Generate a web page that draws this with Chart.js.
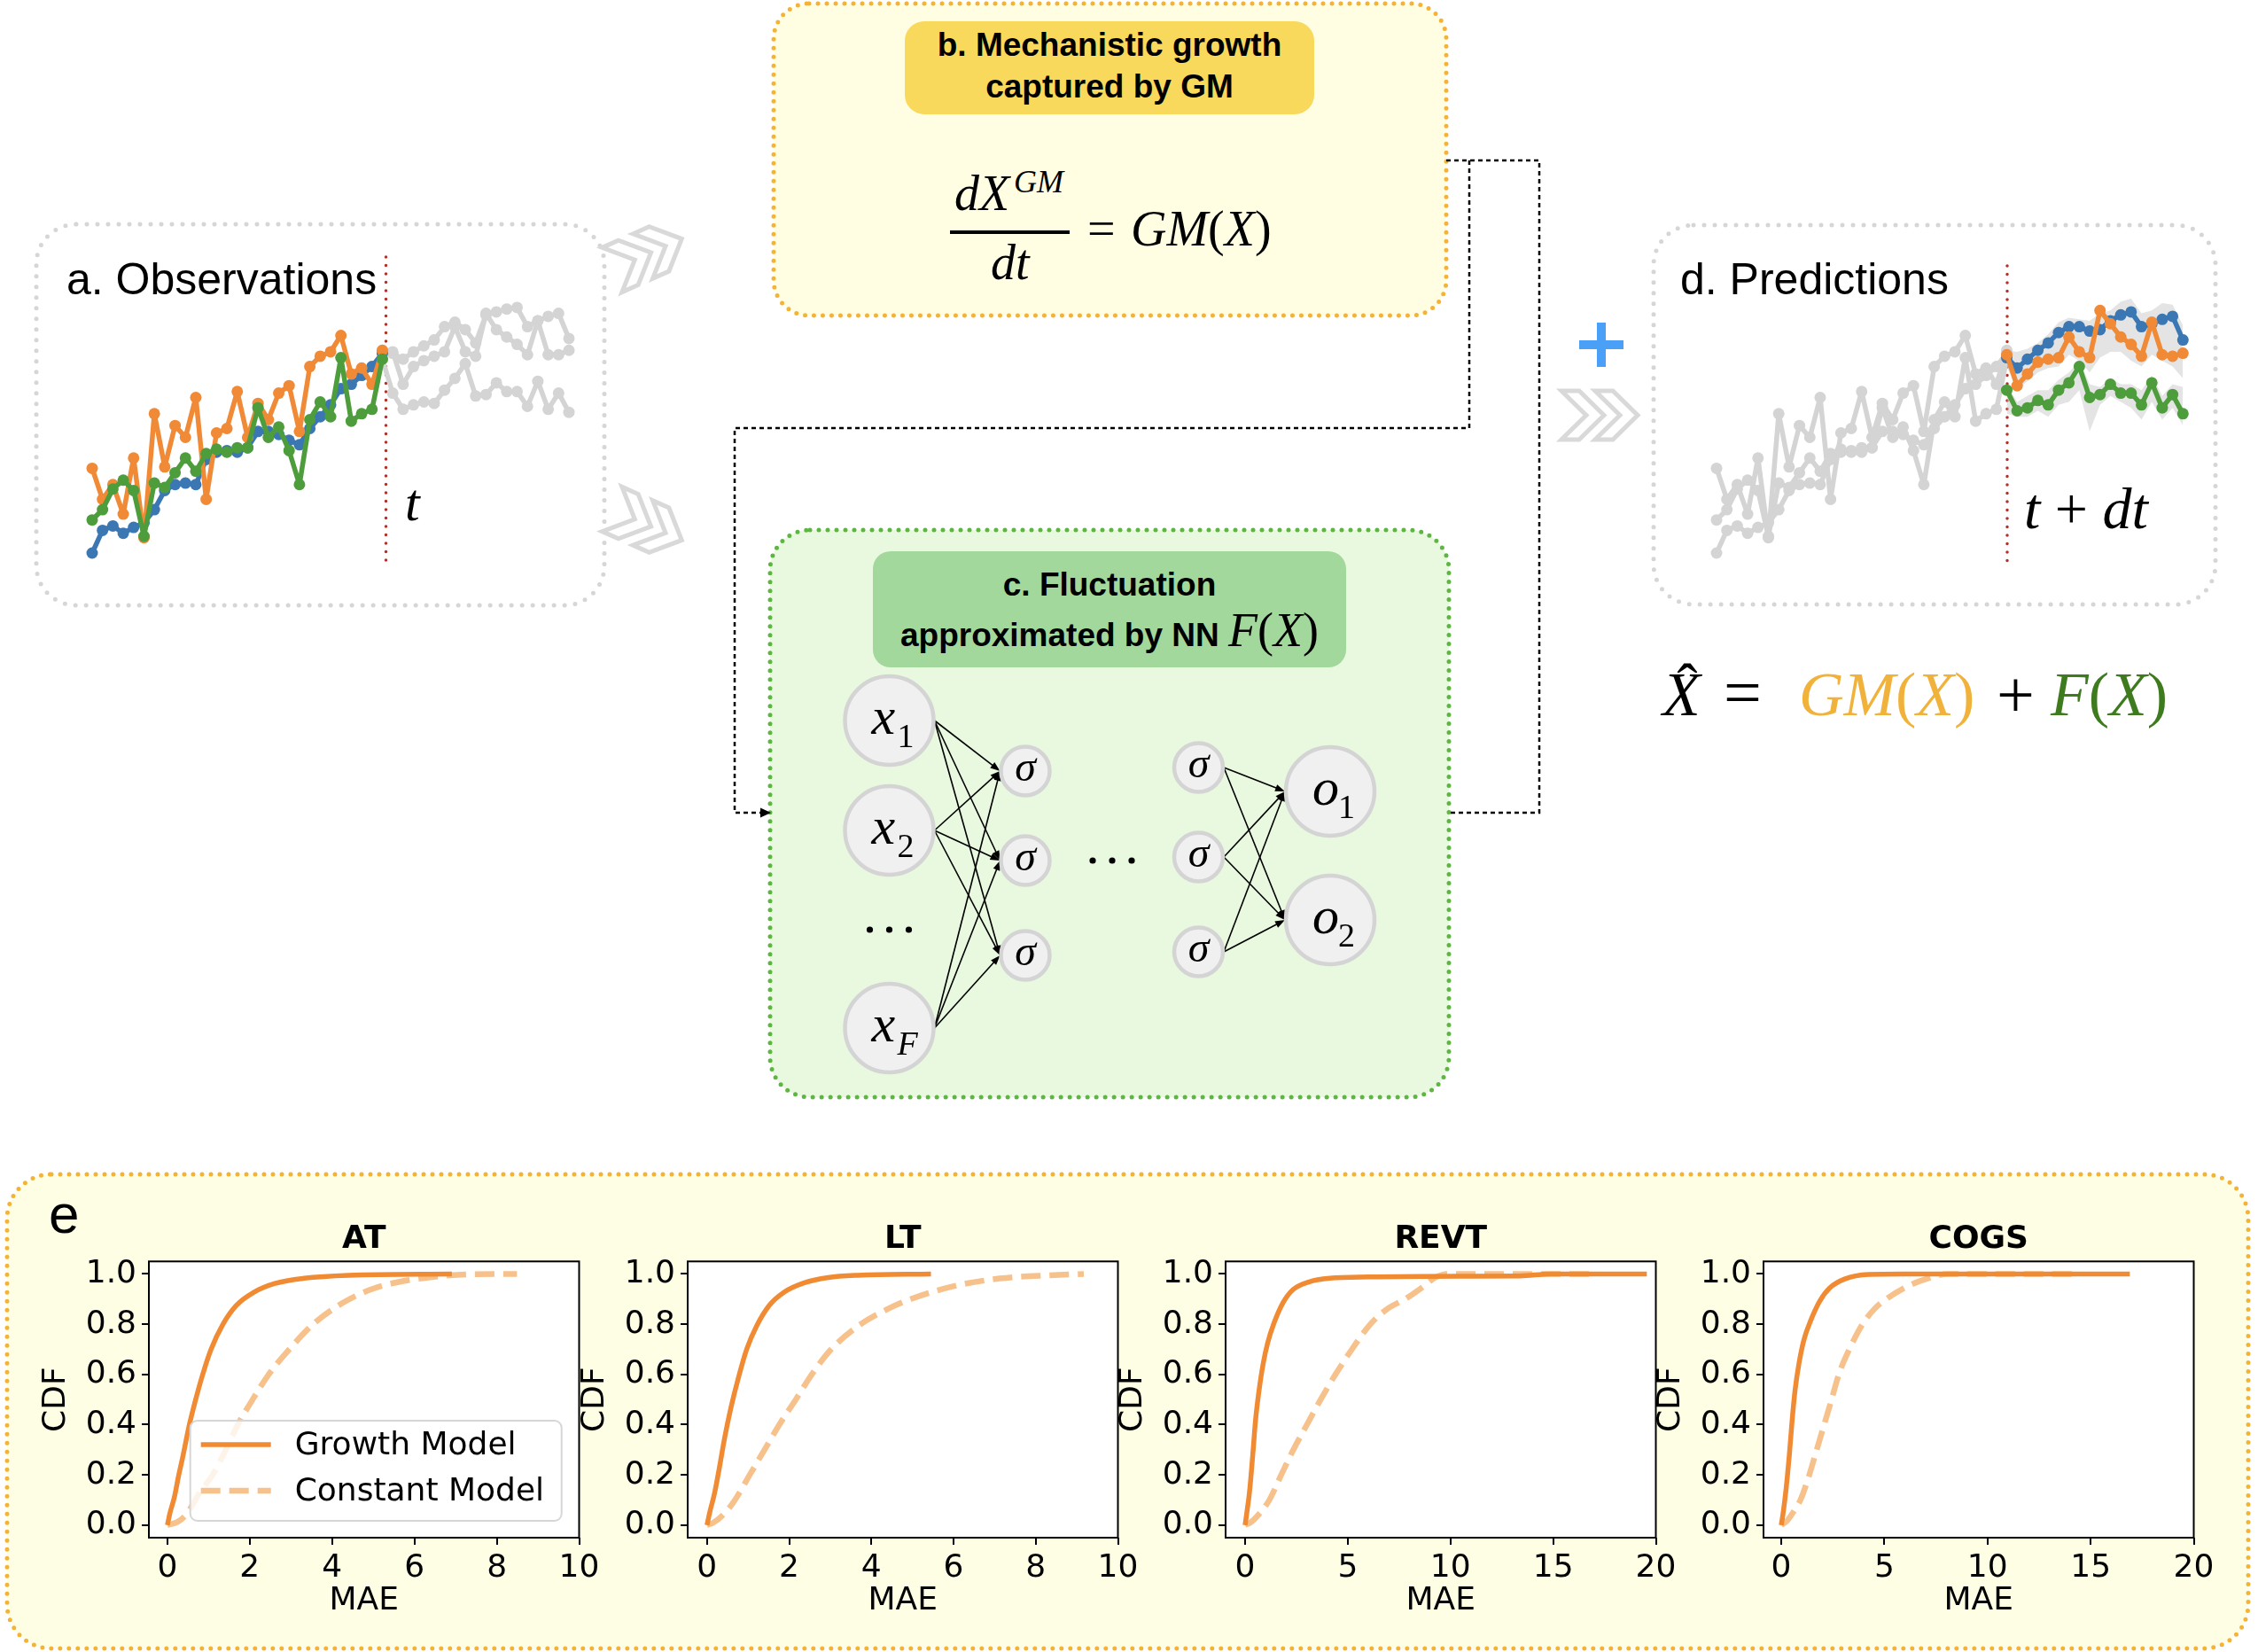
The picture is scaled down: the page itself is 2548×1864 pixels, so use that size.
<!DOCTYPE html>
<html>
<head>
<meta charset="utf-8">
<title>Growth model + NN fluctuation</title>
<script src="https://cdn.jsdelivr.net/npm/chart.js@4"></script>
<style>
  html, body { margin: 0; padding: 0; background: #fff; }
  #page { position: relative; width: 2548px; height: 1864px; overflow: hidden; }
  #page svg { position: absolute; left: 0; top: 0; }
  canvas { position: absolute; }
</style>
</head>
<body>
<div id="page">
<svg width="2548" height="1864" viewBox="0 0 2548 1864" xmlns="http://www.w3.org/2000/svg">
  <defs>
    <polygon id="chev" points="0,0 20,0 48,27.5 20,55 0,55 28,27.5" fill="#fff" stroke="#d9d9d9" stroke-width="5"/>
  </defs>
  <!-- boxes -->
  <rect x="8" y="1325" width="2529" height="535" rx="50" fill="#fefee4" stroke="#f5b335" stroke-width="5" stroke-dasharray="0 10" stroke-linecap="round"/>
  <rect x="41" y="253" width="641" height="430" rx="45" fill="#fff" stroke="#d6d6d6" stroke-width="5" stroke-dasharray="0 12" stroke-linecap="round"/>
  <rect x="1866" y="254" width="634" height="428" rx="45" fill="#fff" stroke="#d6d6d6" stroke-width="5" stroke-dasharray="0 12" stroke-linecap="round"/>
  <rect x="873" y="4" width="759" height="352" rx="40" fill="#fffee2" stroke="#f5b335" stroke-width="5" stroke-dasharray="0 10" stroke-linecap="round"/>
  <rect x="1021" y="24" width="462" height="105" rx="22" fill="#f8d95b"/>
  <rect x="869" y="598" width="766" height="640" rx="45" fill="#e8f9df" stroke="#5db640" stroke-width="5" stroke-dasharray="0 10" stroke-linecap="round"/>
  <rect x="985" y="622" width="534" height="131" rx="20" fill="#a2d89b"/>

  <!-- connectors -->
  <path d="M1632,181 H1737 V917 H1637" fill="none" stroke="#000" stroke-width="2.5" stroke-dasharray="5 4"/>
  <path d="M1658,181 V483 H829 V917 H860" fill="none" stroke="#000" stroke-width="2.5" stroke-dasharray="5 4"/>
  <polygon points="870,917 858,911.5 858,922.5" fill="#000"/>

  <!-- chevrons and plus -->
  <g transform="translate(730,287) rotate(-24) translate(-43,-27.5)"><use href="#chev"/><use href="#chev" x="38"/></g>
  <g transform="translate(730,592) rotate(24) translate(-43,-27.5)"><use href="#chev"/><use href="#chev" x="38"/></g>
  <g transform="translate(1762,441)"><use href="#chev"/><use href="#chev" x="38"/></g>
  <rect x="1782" y="384" width="50" height="10" fill="#4aa0f7"/>
  <rect x="1802" y="364" width="10" height="50" fill="#4aa0f7"/>

  <!-- time markers -->
  <line x1="435.5" y1="290" x2="435.5" y2="640" stroke="#b3302a" stroke-width="3.5" stroke-dasharray="0 9.5" stroke-linecap="round"/>
  <line x1="2265" y1="300" x2="2265" y2="637" stroke="#b3302a" stroke-width="3.5" stroke-dasharray="0 9.5" stroke-linecap="round"/>

  <!-- text -->
  <g font-family="Liberation Sans, Arial, sans-serif" fill="#000">
    <text x="75" y="332" font-size="50">a. Observations</text>
    <text x="1896" y="332" font-size="50">d. Predictions</text>
    <text x="1252" y="63" font-size="37" font-weight="bold" text-anchor="middle">b. Mechanistic growth</text>
    <text x="1252" y="110" font-size="37" font-weight="bold" text-anchor="middle">captured by GM</text>
    <text x="1252" y="672" font-size="37" font-weight="bold" text-anchor="middle">c. Fluctuation</text>
    <text x="1252" y="729" font-size="37" font-weight="bold" text-anchor="middle">approximated by NN <tspan font-family="Liberation Serif, Times New Roman, serif" font-weight="normal" font-size="54"><tspan font-style="italic">F</tspan>(<tspan font-style="italic">X</tspan>)</tspan></text>
    <text x="55" y="1391" font-size="62">e</text>
  </g>
  <g font-family="Liberation Serif, Times New Roman, serif" fill="#000">
    <text x="457" y="587" font-size="60" font-style="italic">t</text>
    <text x="2284" y="596" font-size="66"><tspan font-style="italic">t</tspan> + <tspan font-style="italic">dt</tspan></text>
    <text x="1077" y="237" font-size="56" font-style="italic">dX</text>
    <text x="1144" y="217" font-size="36" font-style="italic">GM</text>
    <line x1="1072" y1="262" x2="1207" y2="262" stroke="#000" stroke-width="4"/>
    <text x="1118" y="315" font-size="56" font-style="italic">dt</text>
    <text x="1227" y="277" font-size="56">=</text>
    <text x="1276" y="277" font-size="56"><tspan font-style="italic">GM</tspan>(<tspan font-style="italic">X</tspan>)</text>
    <text x="1876" y="807" font-size="70" font-style="italic">X</text>
    <text x="1904" y="797" font-size="70" text-anchor="middle">ˆ</text>
    <text x="1945" y="807" font-size="76">=</text>
    <text x="2030" y="807" font-size="70" fill="#f1b23b"><tspan font-style="italic">GM</tspan>(<tspan font-style="italic">X</tspan>)</text>
    <text x="2253" y="809" font-size="76">+</text>
    <text x="2314" y="807" font-size="70" fill="#3e7b1e"><tspan font-style="italic">F</tspan>(<tspan font-style="italic">X</tspan>)</text>
  </g>
</svg>

<canvas id="obsChart" width="568" height="363" style="left:88.7px;top:291.7px"></canvas>
<canvas id="predChart" width="568" height="363" style="left:1921.7px;top:291.7px"></canvas>
<canvas id="nnChart" width="766" height="640" style="left:869px;top:598px"></canvas>
<canvas id="cdfAT" width="656" height="453" style="left:38.3px;top:1375px"></canvas>
<canvas id="cdfLT" width="656" height="453" style="left:646.3px;top:1375px"></canvas>
<canvas id="cdfREVT" width="656" height="453" style="left:1253.3px;top:1375px"></canvas>
<canvas id="cdfCOGS" width="656" height="453" style="left:1860.3px;top:1375px"></canvas>
</div>

<script>
// observed series, time index 0..28
const obsBlue   = [4.8, 12.5, 14.0, 11.5, 13.5, 15.0, 19.5, 26.0, 28.0, 28.5, 28.0, 36.5, 39.0, 39.5, 39.0, 40.5, 46.0, 46.0, 45.0, 43.0, 41.5, 47.0, 51.0, 55.0, 60.5, 62.0, 65.0, 68.0, 72.5];
const obsOrange = [33.5, 23.0, 28.0, 18.0, 37.0, 10.0, 52.0, 34.0, 48.0, 44.0, 57.5, 23.0, 45.5, 47.0, 59.5, 44.0, 55.5, 50.0, 59.0, 61.5, 46.0, 68.0, 71.5, 73.0, 78.5, 65.5, 67.5, 62.0, 73.5];
const obsGreen  = [16.0, 19.5, 26.5, 29.5, 26.0, 10.5, 28.5, 27.0, 32.0, 37.0, 32.5, 38.5, 40.0, 39.0, 40.5, 40.5, 54.0, 44.0, 47.5, 39.5, 28.0, 50.0, 56.0, 51.0, 71.0, 49.5, 52.0, 53.5, 70.5];

// true continuation, index 29..46 (grey in panel a)
const futBlue   = [72.5, 70.5, 73.0, 75.0, 77.0, 81.5, 83.0, 80.5, 76.0, 85.5, 86.5, 87.5, 88.0, 81.5, 83.5, 85.0, 86.0, 77.5];
const futOrange = [73.0, 62.0, 68.0, 70.0, 71.5, 73.0, 81.5, 73.0, 71.5, 86.0, 80.5, 78.0, 75.5, 72.0, 83.5, 72.0, 72.0, 73.5];
const futGreen  = [59.0, 53.5, 55.0, 56.0, 55.5, 60.0, 64.0, 69.0, 58.0, 58.5, 62.5, 59.5, 59.5, 54.5, 63.0, 53.5, 59.0, 52.5];

// predictions, index 28..45 (panel d)
const predBlue   = [71.0, 67.5, 70.5, 73.5, 76.0, 79.5, 81.5, 81.5, 80.0, 80.5, 83.5, 85.5, 86.5, 81.5, 82.5, 84.0, 85.0, 77.0];
const predOrange = [72.0, 61.5, 65.5, 69.5, 70.5, 71.0, 78.0, 73.0, 71.0, 87.0, 82.5, 78.0, 75.5, 71.5, 83.0, 72.0, 71.5, 72.5];
const predGreen  = [60.0, 53.0, 54.0, 56.5, 55.0, 60.0, 62.5, 68.0, 57.5, 58.5, 62.0, 59.0, 59.0, 55.0, 62.5, 54.0, 58.5, 52.0];
const bandTopHi  = [73.5, 73.0, 74.0, 76.0, 79.0, 83.0, 84.5, 84.0, 83.5, 86.0, 87.0, 90.0, 91.0, 86.0, 87.0, 89.5, 89.0, 82.0];
const bandTopLo  = [68.0, 60.0, 63.0, 66.0, 67.5, 68.0, 72.0, 70.0, 66.0, 71.0, 73.0, 73.0, 70.0, 68.0, 72.0, 70.0, 68.0, 64.0];
const bandLowHi  = [62.0, 56.0, 58.0, 60.0, 60.0, 63.5, 66.0, 70.0, 62.0, 61.0, 64.0, 62.0, 62.0, 60.0, 65.0, 58.0, 62.0, 61.0];
const bandLowLo  = [52.0, 51.0, 51.0, 53.0, 51.0, 55.0, 56.0, 60.0, 46.0, 55.0, 58.0, 56.0, 54.0, 50.0, 56.0, 50.0, 54.0, 48.0];

// CDF curves of MAE (panel e)
const atGrowthX   = [0, 0.06, 0.17, 0.27, 0.38, 0.52, 0.67, 0.85, 1.06, 1.35, 1.67, 2.10, 2.61, 3.32, 4.40, 6.91];
const atGrowthY   = [0, 0.047, 0.112, 0.195, 0.277, 0.39, 0.49, 0.596, 0.70, 0.80, 0.874, 0.927, 0.962, 0.983, 0.995, 1.0];
const atConstX    = [0, 0.24, 0.45, 0.81, 1.10, 1.39, 1.71, 2.07, 2.46, 2.96, 3.54, 4.26, 4.97, 5.62, 6.34, 7.27, 8.49];
const atConstY    = [0, 0.012, 0.041, 0.136, 0.20, 0.29, 0.40, 0.50, 0.60, 0.70, 0.80, 0.885, 0.94, 0.968, 0.986, 0.998, 1.0];
const ltGrowthX   = [0, 0.07, 0.18, 0.29, 0.43, 0.58, 0.76, 0.97, 1.22, 1.51, 1.87, 2.37, 2.95, 3.67, 5.45];
const ltGrowthY   = [0, 0.053, 0.124, 0.218, 0.348, 0.466, 0.584, 0.702, 0.797, 0.874, 0.927, 0.965, 0.986, 0.995, 1.0];
const ltConstX    = [0, 0.14, 0.43, 0.68, 1.04, 1.40, 1.76, 2.16, 2.55, 3.02, 3.74, 4.39, 4.96, 5.97, 7.12, 8.35, 9.17];
const ltConstY    = [0, 0.008, 0.047, 0.10, 0.20, 0.30, 0.40, 0.50, 0.60, 0.70, 0.80, 0.86, 0.90, 0.95, 0.982, 0.995, 1.0];
const revtGrowthX = [0, 0.07, 0.22, 0.37, 0.51, 0.66, 0.88, 1.10, 1.40, 1.84, 2.35, 3.09, 4.12, 6.03, 10.44, 13.38, 14.85, 19.56];
const revtGrowthY = [0, 0.041, 0.136, 0.277, 0.419, 0.525, 0.643, 0.726, 0.803, 0.885, 0.939, 0.968, 0.983, 0.988, 0.991, 0.992, 1.0, 1.0];
const revtConstX  = [0, 0.29, 0.74, 1.18, 1.76, 2.35, 3.01, 3.68, 4.40, 5.20, 6.10, 6.91, 7.79, 8.68, 9.26, 9.85, 16.9];
const revtConstY  = [0, 0.012, 0.05, 0.10, 0.20, 0.30, 0.40, 0.50, 0.60, 0.70, 0.80, 0.86, 0.90, 0.95, 0.986, 1.0, 1.0];
const cogsGrowthX = [0, 0.10, 0.24, 0.39, 0.53, 0.67, 0.86, 1.10, 1.43, 1.86, 2.36, 3.08, 4.23, 5.95, 16.9];
const cogsGrowthY = [0, 0.053, 0.148, 0.277, 0.419, 0.537, 0.644, 0.738, 0.815, 0.891, 0.945, 0.98, 0.998, 1.0, 1.0];
const cogsConstX  = [0, 0.29, 0.57, 0.93, 1.36, 1.72, 2.08, 2.44, 2.79, 3.30, 3.94, 4.51, 5.09, 6.09, 7.09, 8.09, 14.2];
const cogsConstY  = [0, 0.018, 0.05, 0.10, 0.20, 0.30, 0.40, 0.50, 0.60, 0.70, 0.80, 0.86, 0.90, 0.95, 0.982, 1.0, 1.0];

// neural net sketch (panel c), node layout in canvas units
const nnLabel = ['x', 'x', 'x', 'σ', 'σ', 'σ', 'σ', 'σ', 'σ', 'o', 'o'];
const nnSub   = ['1', '2', 'F', '', '', '', '', '', '', '1', '2'];
const nnX     = [134.5, 134.5, 134.5, 288, 288, 288, 483.5, 483.5, 483.5, 632, 632];
const nnY     = [215, 339, 562, 272, 373, 480, 268, 369, 476, 295, 440];
const nnR     = [50, 50, 50, 27.5, 27.5, 27.5, 27.5, 27.5, 27.5, 50, 50];
const nnEdges = [[0, 3], [0, 4], [0, 5], [1, 3], [1, 4], [1, 5], [2, 3], [2, 4], [2, 5],
                 [6, 9], [6, 10], [7, 9], [7, 10], [8, 9], [8, 10]];
const nnDots  = [[134.5, 451], [386, 373]];

const BLUE = '#3b77b3', ORANGE = '#f08a36', GREEN = '#4e9d3c', GREY = '#d4d4d4';
const serif = "'Liberation Serif', 'Times New Roman', serif";
const cdfFont = "'DejaVu Sans', sans-serif";

const seq = (vals, start) => vals.map((v, i) => ({ x: start + i, y: v }));
const pairs = (xs, ys) => xs.map((v, i) => ({ x: v, y: ys[i] }));

function lineSet(data, color, order) {
  return { data, borderColor: color, backgroundColor: color, pointBackgroundColor: color,
           pointBorderColor: color, order };
}
function bandSet(data, fill, order) {
  return { data, fill, borderWidth: 0, pointRadius: 0, backgroundColor: 'rgba(195,195,195,0.45)', order };
}

function miniChart(id, datasets) {
  return new Chart(document.getElementById(id), {
    type: 'line',
    data: { datasets },
    options: {
      responsive: false, animation: false, events: [],
      layout: { autoPadding: false, padding: 15 },
      plugins: { legend: { display: false }, tooltip: { enabled: false } },
      elements: {
        line: { borderWidth: 5.5, tension: 0, borderJoinStyle: 'round', borderCapStyle: 'round' },
        point: { radius: 6.5, borderWidth: 0 }
      },
      datasets: { line: { clip: false } },
      scales: {
        x: { type: 'linear', display: false, min: 0, max: 46 },
        y: { display: false, min: 0, max: 100 }
      }
    }
  });
}

// panel a: observations + grey truth after t
miniChart('obsChart', [
  lineSet(seq([obsBlue[28]].concat(futBlue), 28), GREY, 5),
  lineSet(seq([obsOrange[28]].concat(futOrange), 28), GREY, 5),
  lineSet(seq([obsGreen[28]].concat(futGreen), 28), GREY, 5),
  lineSet(seq(obsBlue, 0), BLUE, 2),
  lineSet(seq(obsOrange, 0), ORANGE, 1),
  lineSet(seq(obsGreen, 0), GREEN, 0)
]);

// panel d: grey history + predictions with bands
miniChart('predChart', [
  bandSet(seq(bandTopHi, 28), '+1', 7),
  bandSet(seq(bandTopLo, 28), false, 7),
  bandSet(seq(bandLowHi, 28), '+1', 6),
  bandSet(seq(bandLowLo, 28), false, 6),
  lineSet(seq(obsBlue, 0), GREY, 5),
  lineSet(seq(obsOrange, 0), GREY, 5),
  lineSet(seq(obsGreen, 0), GREY, 5),
  lineSet(seq(predBlue, 28), BLUE, 2),
  lineSet(seq(predOrange, 28), ORANGE, 1),
  lineSet(seq(predGreen, 28), GREEN, 0)
]);

// panel c: network
const nnDecor = {
  id: 'nnDecor',
  beforeDatasetsDraw(chart) {
    const { ctx, scales: { x, y } } = chart;
    ctx.save();
    ctx.strokeStyle = '#000';
    ctx.fillStyle = '#000';
    ctx.lineWidth = 1.6;
    nnEdges.forEach(([a, b]) => {
      const x0 = x.getPixelForValue(nnX[a] + nnR[a] + 1), y0 = y.getPixelForValue(nnY[a]);
      const x1 = x.getPixelForValue(nnX[b] - nnR[b] - 1), y1 = y.getPixelForValue(nnY[b]);
      const ang = Math.atan2(y1 - y0, x1 - x0), c = Math.cos(ang), s = Math.sin(ang);
      ctx.beginPath();
      ctx.moveTo(x0, y0);
      ctx.lineTo(x1 - 8 * c, y1 - 8 * s);
      ctx.stroke();
      ctx.beginPath();
      ctx.moveTo(x1, y1);
      ctx.lineTo(x1 - 11 * c + 4 * s, y1 - 11 * s - 4 * c);
      ctx.lineTo(x1 - 11 * c - 4 * s, y1 - 11 * s + 4 * c);
      ctx.closePath();
      ctx.fill();
    });
    ctx.restore();
  },
  afterDatasetsDraw(chart) {
    const { ctx, scales: { x, y } } = chart;
    ctx.save();
    ctx.fillStyle = '#000';
    ctx.textBaseline = 'alphabetic';
    nnLabel.forEach((lab, i) => {
      const cx = x.getPixelForValue(nnX[i]), cy = y.getPixelForValue(nnY[i]);
      if (lab === 'σ') {
        ctx.font = `italic 48px ${serif}`;
        ctx.textAlign = 'center';
        ctx.fillText(lab, cx, cy + 11);
        return;
      }
      ctx.textAlign = 'left';
      ctx.font = `italic 60px ${serif}`;
      ctx.fillText(lab, cx - 20, cy + 15);
      ctx.font = (nnSub[i] === 'F' ? 'italic ' : '') + `38px ${serif}`;
      ctx.fillText(nnSub[i], cx + 9, cy + 30);
    });
    nnDots.forEach(([dx, dy]) => {
      const px = x.getPixelForValue(dx), py = y.getPixelForValue(dy);
      [-22, 0, 22].forEach(o => {
        ctx.beginPath();
        ctx.arc(px + o, py, 3.6, 0, Math.PI * 2);
        ctx.fill();
      });
    });
    ctx.restore();
  }
};

new Chart(document.getElementById('nnChart'), {
  type: 'scatter',
  data: {
    datasets: [{
      data: pairs(nnX, nnY),
      pointRadius: nnR,
      pointBackgroundColor: '#f0f0f0',
      pointBorderColor: '#d4d4d4',
      pointBorderWidth: 4.5
    }]
  },
  options: {
    responsive: false, animation: false, events: [],
    layout: { autoPadding: false, padding: 0 },
    plugins: { legend: { display: false }, tooltip: { enabled: false } },
    scales: {
      x: { type: 'linear', display: false, min: 0, max: 766 },
      y: { type: 'linear', display: false, min: 0, max: 640, reverse: true }
    }
  },
  plugins: [nnDecor]
});

// panel e: CDF subplots
const GROWTH_COLOR = '#f08a33';
const CONST_COLOR = 'rgba(240,142,44,0.55)';

const axesFrame = {
  id: 'axesFrame',
  beforeDraw(chart) {
    const { ctx, chartArea: a } = chart;
    ctx.save();
    ctx.fillStyle = '#fff';
    ctx.fillRect(a.left, a.top, a.right - a.left, a.bottom - a.top);
    ctx.restore();
  },
  afterDraw(chart, args, opts) {
    const { ctx, chartArea: a } = chart;
    ctx.save();
    ctx.strokeStyle = '#000';
    ctx.lineWidth = 2;
    ctx.strokeRect(a.left, a.top, a.right - a.left, a.bottom - a.top);
    ctx.fillStyle = '#000';
    ctx.font = `bold 36px ${cdfFont}`;
    ctx.textAlign = 'center';
    ctx.textBaseline = 'alphabetic';
    ctx.fillText(opts.title, (a.left + a.right) / 2, a.top - 15);
    ctx.restore();
  }
};

const cdfLegend = {
  id: 'cdfLegend',
  afterDraw(chart, args, opts) {
    if (!opts.show) return;
    const { ctx, chartArea: a } = chart;
    const bx = a.left + 46.7, by = a.top + 179.7, bw = 419, bh = 113;
    ctx.save();
    ctx.beginPath();
    ctx.roundRect(bx, by, bw, bh, 8);
    ctx.fillStyle = 'rgba(255,255,255,0.8)';
    ctx.fill();
    ctx.strokeStyle = '#d6d6d6';
    ctx.lineWidth = 2;
    ctx.stroke();
    chart.data.datasets.forEach((ds, i) => {
      const yy = by + 27 + i * 52;
      ctx.beginPath();
      ctx.setLineDash(ds.borderDash || []);
      ctx.strokeStyle = ds.borderColor;
      ctx.lineWidth = ds.borderWidth;
      ctx.moveTo(bx + 12, yy);
      ctx.lineTo(bx + 91, yy);
      ctx.stroke();
      ctx.setLineDash([]);
      ctx.fillStyle = '#000';
      ctx.font = `36px ${cdfFont}`;
      ctx.textAlign = 'left';
      ctx.textBaseline = 'middle';
      ctx.fillText(ds.label, bx + 118, yy + 2);
    });
    ctx.restore();
  }
};

const cdfPanels = [
  { id: 'cdfAT',   title: 'AT',   gx: atGrowthX,   gy: atGrowthY,   cx: atConstX,   cy: atConstY,   xmin: -0.45, xmax: 10, step: 2, legend: true },
  { id: 'cdfLT',   title: 'LT',   gx: ltGrowthX,   gy: ltGrowthY,   cx: ltConstX,   cy: ltConstY,   xmin: -0.47, xmax: 10, step: 2, legend: false },
  { id: 'cdfREVT', title: 'REVT', gx: revtGrowthX, gy: revtGrowthY, cx: revtConstX, cy: revtConstY, xmin: -0.95, xmax: 20, step: 5, legend: false },
  { id: 'cdfCOGS', title: 'COGS', gx: cogsGrowthX, gy: cogsGrowthY, cx: cogsConstX, cy: cogsConstY, xmin: -0.86, xmax: 20, step: 5, legend: false }
];

const tickFont = { family: cdfFont, size: 36 };
const tickGrid = { drawOnChartArea: false, drawTicks: true, tickLength: 8, color: '#000', lineWidth: 2 };

cdfPanels.forEach(p => {
  new Chart(document.getElementById(p.id), {
    type: 'line',
    data: {
      datasets: [
        { label: 'Growth Model', data: pairs(p.gx, p.gy), borderColor: GROWTH_COLOR, borderWidth: 5.5, order: 1 },
        { label: 'Constant Model', data: pairs(p.cx, p.cy), borderColor: CONST_COLOR, borderWidth: 6.5, borderDash: [22, 10], order: 0 }
      ]
    },
    options: {
      responsive: false, animation: false, events: [],
      layout: { autoPadding: false, padding: { left: 0, top: 48.3, right: 40.5, bottom: 0 } },
      elements: { point: { radius: 0 }, line: { cubicInterpolationMode: 'monotone', borderCapStyle: 'butt' } },
      plugins: {
        legend: { display: false },
        tooltip: { enabled: false },
        axesFrame: { title: p.title },
        cdfLegend: { show: p.legend }
      },
      scales: {
        x: {
          type: 'linear', min: p.xmin, max: p.xmax,
          afterFit: s => { s.height = 93; },
          border: { display: false },
          grid: tickGrid,
          ticks: { stepSize: p.step, includeBounds: false, padding: 5, color: '#000', font: tickFont, maxRotation: 0, autoSkip: false },
          title: { display: true, text: 'MAE', color: '#000', font: tickFont, padding: 0 }
        },
        y: {
          type: 'linear', min: -0.05, max: 1.05,
          afterFit: s => { s.width = 130; },
          border: { display: false },
          grid: tickGrid,
          ticks: { stepSize: 0.2, includeBounds: false, padding: 6, color: '#000', font: tickFont, autoSkip: false,
                   callback: v => v.toFixed(1) },
          title: { display: true, text: 'CDF', color: '#000', font: tickFont, padding: { top: 4, bottom: 0 } }
        }
      }
    },
    plugins: [axesFrame, cdfLegend]
  });
});
</script>
</body>
</html>
